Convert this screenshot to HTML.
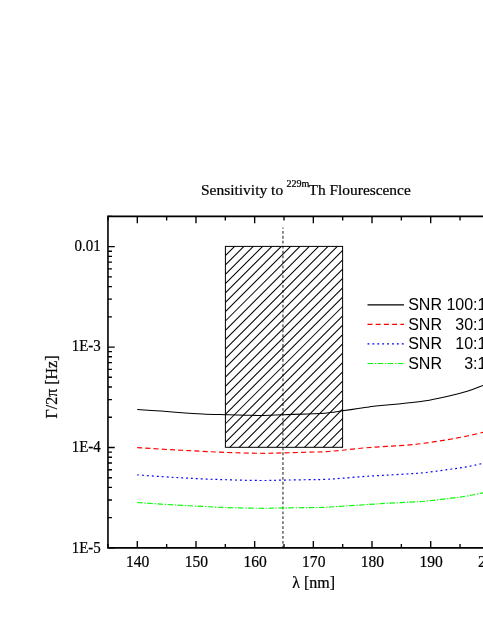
<!DOCTYPE html>
<html><head><meta charset="utf-8"><title>Sensitivity</title>
<style>
html,body{margin:0;padding:0;background:#fff;}
body{width:483px;height:625px;overflow:hidden;}
svg{display:block;will-change:transform;}
.s{font-family:"Liberation Serif",serif;fill:#000;stroke:#000;stroke-width:0.22px;}
.a{font-family:"Liberation Sans",sans-serif;fill:#000;}
</style></head><body>
<svg width="483" height="625" viewBox="0 0 483 625">
<rect width="483" height="625" fill="#fff"/>
<defs>
<pattern id="h" patternUnits="userSpaceOnUse" width="9.33" height="9.33" x="225.40" y="246.50">
<path d="M-1 10.33 L10.33 -1 M-1 1 L1 -1 M8.33 10.33 L10.33 8.33" stroke="#000" stroke-width="1" fill="none"/>
</pattern>
<clipPath id="c"><rect x="0" y="0" width="483" height="625"/></clipPath>
</defs>

<clipPath id="bc"><rect x="225.40" y="246.40" width="117.20" height="200.90"/></clipPath>
<path d="M223.40 229.58 L344.60 108.38 M223.40 238.92 L344.60 117.72 M223.40 248.26 L344.60 127.06 M223.40 257.60 L344.60 136.40 M223.40 266.94 L344.60 145.74 M223.40 276.28 L344.60 155.08 M223.40 285.62 L344.60 164.42 M223.40 294.96 L344.60 173.76 M223.40 304.30 L344.60 183.10 M223.40 313.64 L344.60 192.44 M223.40 322.98 L344.60 201.78 M223.40 332.32 L344.60 211.12 M223.40 341.66 L344.60 220.46 M223.40 351.00 L344.60 229.80 M223.40 360.34 L344.60 239.14 M223.40 369.68 L344.60 248.48 M223.40 379.02 L344.60 257.82 M223.40 388.36 L344.60 267.16 M223.40 397.70 L344.60 276.50 M223.40 407.04 L344.60 285.84 M223.40 416.38 L344.60 295.18 M223.40 425.72 L344.60 304.52 M223.40 435.06 L344.60 313.86 M223.40 444.40 L344.60 323.20 M223.40 453.74 L344.60 332.54 M223.40 463.08 L344.60 341.88 M223.40 472.42 L344.60 351.22 M223.40 481.76 L344.60 360.56 M223.40 491.10 L344.60 369.90 M223.40 500.44 L344.60 379.24 M223.40 509.78 L344.60 388.58 M223.40 519.12 L344.60 397.92 M223.40 528.46 L344.60 407.26 M223.40 537.80 L344.60 416.60 M223.40 547.14 L344.60 425.94 M223.40 556.48 L344.60 435.28 M223.40 565.82 L344.60 444.62 M223.40 575.16 L344.60 453.96" stroke="#000" stroke-width="1.05" fill="none" clip-path="url(#bc)"/>
<rect x="225.40" y="246.40" width="117.20" height="200.90" fill="none" stroke="#000" stroke-width="1"/>
<line x1="282.95" y1="227.4" x2="282.95" y2="547.5" stroke="#000" stroke-width="1.3" stroke-dasharray="2.8 2.12" stroke-dashoffset="1.37" opacity="0.7"/>
<path d="M137.20 409.50 C141.17 409.77 153.57 410.57 161.00 411.10 C168.43 411.63 174.88 412.23 181.80 412.70 C188.72 413.17 195.27 413.57 202.50 413.90 C209.73 414.22 218.00 414.43 225.20 414.65 C232.40 414.87 239.87 415.07 245.70 415.20 C251.53 415.32 253.98 415.48 260.20 415.40 C266.42 415.32 275.07 414.95 283.00 414.70 C290.93 414.45 300.80 414.13 307.80 413.90 C314.80 413.67 320.47 413.62 325.00 413.30 C329.53 412.98 332.10 412.42 335.00 412.00 C337.90 411.58 338.55 411.37 342.40 410.80 C346.25 410.23 353.67 409.25 358.10 408.60 C362.53 407.95 366.43 407.30 369.00 406.90 C371.57 406.50 370.45 406.53 373.50 406.20 C376.55 405.87 382.38 405.35 387.30 404.90 C392.22 404.45 396.88 404.15 403.00 403.50 C409.12 402.85 416.50 402.22 424.00 401.00 C431.50 399.78 440.80 397.83 448.00 396.20 C455.20 394.57 461.37 393.00 467.20 391.20 C473.03 389.40 479.20 386.82 483.00 385.40 C486.80 383.98 488.83 383.15 490.00 382.70" fill="none" stroke="#000" stroke-width="1.05"/>
<path d="M137.20 447.60 C141.17 447.85 153.57 448.65 161.00 449.10 C168.43 449.55 174.88 449.93 181.80 450.30 C188.72 450.67 195.30 450.95 202.50 451.30 C209.70 451.65 215.38 452.07 225.00 452.40 C234.62 452.73 250.53 453.22 260.20 453.30 C269.87 453.38 275.07 453.08 283.00 452.90 C290.93 452.72 300.80 452.40 307.80 452.20 C314.80 452.00 319.23 452.03 325.00 451.70 C330.77 451.37 335.77 450.83 342.40 450.20 C349.03 449.57 357.32 448.53 364.80 447.90 C372.28 447.27 379.82 446.90 387.30 446.40 C394.78 445.90 403.58 445.43 409.70 444.90 C415.82 444.37 417.62 444.08 424.00 443.20 C430.38 442.32 440.80 440.80 448.00 439.60 C455.20 438.40 461.37 437.20 467.20 436.00 C473.03 434.80 479.20 433.30 483.00 432.40 C486.80 431.50 488.83 430.90 490.00 430.60" fill="none" stroke="#f00" stroke-width="1.15" stroke-dasharray="5 3.2"/>
<path d="M137.20 474.90 C141.17 475.18 153.57 476.12 161.00 476.60 C168.43 477.08 174.88 477.42 181.80 477.80 C188.72 478.18 195.30 478.58 202.50 478.90 C209.70 479.22 215.38 479.43 225.00 479.70 C234.62 479.97 250.53 480.43 260.20 480.50 C269.87 480.57 275.07 480.23 283.00 480.10 C290.93 479.97 300.80 479.82 307.80 479.70 C314.80 479.58 319.23 479.65 325.00 479.40 C330.77 479.15 335.77 478.70 342.40 478.20 C349.03 477.70 357.32 476.92 364.80 476.40 C372.28 475.88 379.82 475.53 387.30 475.10 C394.78 474.67 403.58 474.20 409.70 473.80 C415.82 473.40 417.62 473.40 424.00 472.70 C430.38 472.00 440.80 470.60 448.00 469.60 C455.20 468.60 461.37 467.73 467.20 466.70 C473.03 465.67 479.20 464.22 483.00 463.40 C486.80 462.58 488.83 462.07 490.00 461.80" fill="none" stroke="#00f" stroke-width="1.2" stroke-dasharray="1.9 3.0"/>
<path d="M137.20 502.50 C141.17 502.77 153.57 503.62 161.00 504.10 C168.43 504.58 174.88 505.02 181.80 505.40 C188.72 505.78 195.30 506.05 202.50 506.40 C209.70 506.75 215.38 507.18 225.00 507.50 C234.62 507.82 250.53 508.23 260.20 508.30 C269.87 508.37 275.07 508.02 283.00 507.90 C290.93 507.78 300.80 507.70 307.80 507.60 C314.80 507.50 319.23 507.53 325.00 507.30 C330.77 507.07 335.77 506.63 342.40 506.20 C349.03 505.77 357.32 505.18 364.80 504.70 C372.28 504.22 379.82 503.73 387.30 503.30 C394.78 502.87 403.58 502.43 409.70 502.10 C415.82 501.77 417.62 501.88 424.00 501.30 C430.38 500.72 440.80 499.48 448.00 498.60 C455.20 497.72 461.37 496.97 467.20 496.00 C473.03 495.03 479.20 493.58 483.00 492.80 C486.80 492.02 488.83 491.55 490.00 491.30" fill="none" stroke="#0f0" stroke-width="1.15" stroke-dasharray="5.5 1.8 1.3 1.5"/>
<path d="M490 216.40 H107.96 V547.90 H490" fill="none" stroke="#000" stroke-width="1.60" stroke-linejoin="miter"/>
<path d="M107.96 547.90 v-4.00 M107.96 216.40 v4.00 M137.30 547.90 v-6.80 M137.30 216.40 v6.80 M166.64 547.90 v-4.00 M166.64 216.40 v4.00 M195.98 547.90 v-6.80 M195.98 216.40 v6.80 M225.32 547.90 v-4.00 M225.32 216.40 v4.00 M254.66 547.90 v-6.80 M254.66 216.40 v6.80 M284.00 547.90 v-4.00 M284.00 216.40 v4.00 M313.34 547.90 v-6.80 M313.34 216.40 v6.80 M342.68 547.90 v-4.00 M342.68 216.40 v4.00 M372.02 547.90 v-6.80 M372.02 216.40 v6.80 M401.36 547.90 v-4.00 M401.36 216.40 v4.00 M430.70 547.90 v-6.80 M430.70 216.40 v6.80 M460.04 547.90 v-4.00 M460.04 216.40 v4.00 M489.38 547.90 v-6.80 M489.38 216.40 v6.80 M518.72 547.90 v-4.00 M518.72 216.40 v4.00 M107.96 547.90 h6.80 M107.96 517.67 h4.00 M107.96 499.99 h4.00 M107.96 487.44 h4.00 M107.96 477.71 h4.00 M107.96 469.76 h4.00 M107.96 463.03 h4.00 M107.96 457.21 h4.00 M107.96 452.07 h4.00 M107.96 447.48 h6.80 M107.96 417.25 h4.00 M107.96 399.56 h4.00 M107.96 387.02 h4.00 M107.96 377.28 h4.00 M107.96 369.33 h4.00 M107.96 362.61 h4.00 M107.96 356.79 h4.00 M107.96 351.65 h4.00 M107.96 347.05 h6.80 M107.96 316.82 h4.00 M107.96 299.14 h4.00 M107.96 286.59 h4.00 M107.96 276.86 h4.00 M107.96 268.91 h4.00 M107.96 262.19 h4.00 M107.96 256.36 h4.00 M107.96 251.23 h4.00 M107.96 246.63 h6.80 M107.96 216.40 h4.00" fill="none" stroke="#000" stroke-width="1.35"/>
<text class="s" transform="translate(137.70 567.2) scale(0.955 1)" font-size="16.3" text-anchor="middle">140</text>
<text class="s" transform="translate(196.38 567.2) scale(0.955 1)" font-size="16.3" text-anchor="middle">150</text>
<text class="s" transform="translate(255.06 567.2) scale(0.955 1)" font-size="16.3" text-anchor="middle">160</text>
<text class="s" transform="translate(313.74 567.2) scale(0.955 1)" font-size="16.3" text-anchor="middle">170</text>
<text class="s" transform="translate(372.42 567.2) scale(0.955 1)" font-size="16.3" text-anchor="middle">180</text>
<text class="s" transform="translate(431.10 567.2) scale(0.955 1)" font-size="16.3" text-anchor="middle">190</text>
<text class="s" transform="translate(489.78 567.2) scale(0.955 1)" font-size="16.3" text-anchor="middle">200</text>
<text class="s" transform="translate(100.8 251.00) scale(0.92 1)" font-size="16.3" text-anchor="end">0.01</text>
<text class="s" transform="translate(100.8 351.40) scale(0.92 1)" font-size="16.3" text-anchor="end">1E-3</text>
<text class="s" transform="translate(100.8 451.60) scale(0.92 1)" font-size="16.3" text-anchor="end">1E-4</text>
<text class="s" transform="translate(100.8 552.90) scale(0.92 1)" font-size="16.3" text-anchor="end">1E-5</text>
<text class="s" x="313.7" y="588.2" font-size="16" text-anchor="middle">λ [nm]</text>
<text class="s" transform="translate(56.9 387) rotate(-90)" font-size="16" text-anchor="middle">Γ/2π [Hz]</text>
<text class="s" x="200.9" y="194.9" font-size="15.5">Sensitivity to</text><text class="s" x="286.6" y="187" font-size="10">229m</text><text class="s" x="308.6" y="194.9" font-size="15.4">Th Flourescence</text>
<line x1="367.5" x2="404" y1="304.90" y2="304.90" stroke="#000" stroke-width="1.1"/>
<line x1="367.5" x2="404" y1="324.40" y2="324.40" stroke="#f00" stroke-width="1.15" stroke-dasharray="5 3.2"/>
<line x1="367.5" x2="404" y1="343.90" y2="343.90" stroke="#00f" stroke-width="1.2" stroke-dasharray="1.9 3.0"/>
<line x1="367.5" x2="404" y1="363.50" y2="363.50" stroke="#0f0" stroke-width="1.15" stroke-dasharray="5.5 1.8 1.3 1.5"/>
<text class="a" x="408.2" y="310.30" font-size="16" style="white-space:pre">SNR 100:1</text>
<text class="a" x="408.2" y="329.80" font-size="16" style="white-space:pre">SNR   30:1</text>
<text class="a" x="408.2" y="349.30" font-size="16" style="white-space:pre">SNR   10:1</text>
<text class="a" x="408.2" y="368.90" font-size="16" style="white-space:pre">SNR     3:1</text>
</svg></body></html>
